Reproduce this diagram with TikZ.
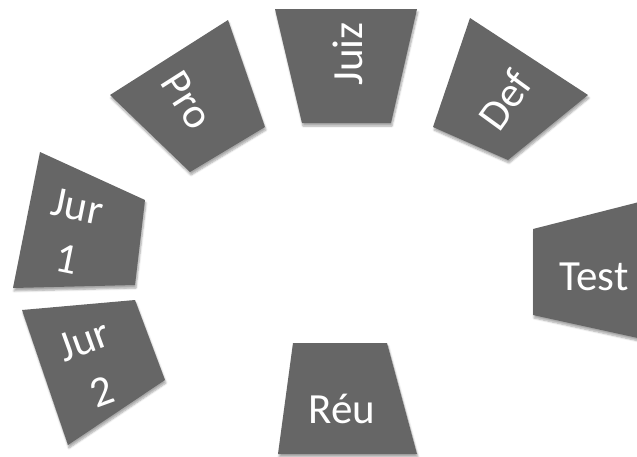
\documentclass[tikz,border=0pt]{standalone}
\usepackage{fontspec}
\setmainfont{Carlito}
\usetikzlibrary{shadows.blur}
\definecolor{seatgray}{RGB}{102,102,102}
\tikzset {
    seat/.style = {
        fill = seatgray,
        blur shadow = {shadow xshift=1pt,shadow yshift=-3pt,shadow blur steps=6,shadow opacity=35}
    },
    role/.style = {
        text = white,
        inner sep = 0pt,
        align = center,
        font = \fontsize{43}{54}\selectfont
    }
}

\begin{document}
\begin{tikzpicture}[x = 1pt, y = -1pt]
    \useasboundingbox (0, 0) rectangle (637, 456);
    % top row
    \fill [seat] (110, 95) -- (228, 20) -- (265, 127) -- (190, 172) -- cycle;
    \node (pro) [role, rotate = -57.5] at (187, 100) {Pro};
    \fill [seat] (275, 9) -- (417, 9) -- (391, 123) -- (302, 123) -- cycle;
    \node (juiz) [role, rotate = 90, anchor = base] at (362, 54) {Juiz};
    \fill [seat] (470, 18) -- (588, 95) -- (508, 160) -- (433, 127) -- cycle;
    \node (def) [role, rotate = 54] at (505, 100) {Def};
    % jury on the left
    \fill [seat] (40, 152) -- (145, 200) -- (135, 285) -- (13, 288) -- cycle;
    \node (jur1) [role, rotate = -11.5] at (72, 233) {Jur\\1};
    \fill [seat] (22, 310) -- (135, 300) -- (165, 380) -- (68, 445) -- cycle;
    \node (jur2) [role, rotate = 20] at (93, 366) {Jur\\2};
    % bottom and right
    \fill [seat] (293, 343) -- (387, 343) -- (417, 454) -- (278, 454) -- cycle;
    \node (reu) [role, anchor = base] at (342, 423) {Réu};
    \fill [seat] (533, 229) -- (647, 200) -- (647, 340) -- (533, 315) -- cycle;
    \node (test) [role, anchor = base] at (594, 290) {Test};
\end{tikzpicture}
\end{document}
